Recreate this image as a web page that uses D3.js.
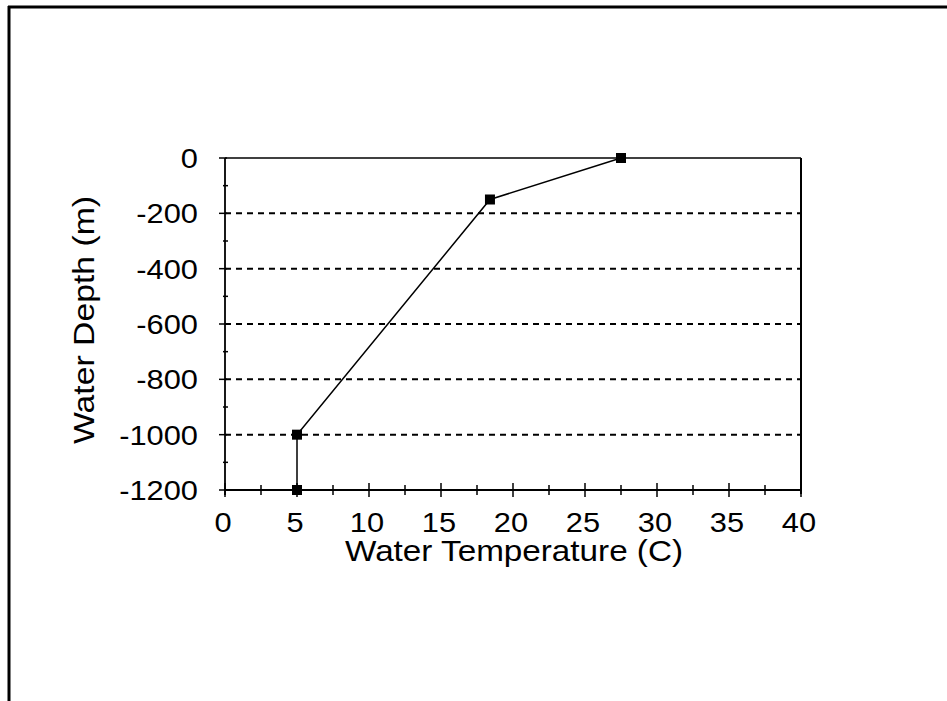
<!DOCTYPE html>
<html><head><meta charset="utf-8">
<script src="https://cdn.jsdelivr.net/npm/d3@7"></script>
<style>body{margin:0;background:#fff}svg{display:block}</style>
</head><body>
<script>
const temperature = [27.5, 18.4, 5.0, 5.0];
const depth = [0, -150, -1000, -1200];
const xTicks = [0, 5, 10, 15, 20, 25, 30, 35, 40];
const yTicks = [0, -200, -400, -600, -800, -1000, -1200];
const xTitle = "Water Temperature (C)";
const yTitle = "Water Depth (m)";

const W = 947, H = 701;
const svg = d3.select("body").append("svg").attr("width", W).attr("height", H);
const font = "'Liberation Sans', Arial, sans-serif";

function stretch(sel, k) {
  sel.each(function () {
    const w = this.getComputedTextLength();
    d3.select(this).attr("textLength", w * k).attr("lengthAdjust", "spacingAndGlyphs");
  });
}

// outer frame
svg.append("line").attr("x1", 8).attr("x2", W).attr("y1", 7).attr("y2", 7).attr("stroke", "#000").attr("stroke-width", 3);
svg.append("line").attr("x1", 9).attr("x2", 9).attr("y1", 6).attr("y2", H).attr("stroke", "#000").attr("stroke-width", 3);

const L = 225, R = 801, T = 158, B = 490;
const x = d3.scaleLinear().domain([0, 40]).range([L, R]);
const y = d3.scaleLinear().domain([-1200, 0]).range([B, T]);

// gridlines
svg.append("g").selectAll("line").data(yTicks.filter(d => d !== 0 && d !== -1200)).join("line")
  .attr("x1", L).attr("x2", R).attr("y1", d => y(d)).attr("y2", d => y(d))
  .attr("stroke", "#000").attr("stroke-width", 2).attr("stroke-dasharray", "6,5");

// plot top and right border
svg.append("line").attr("x1", L).attr("x2", R).attr("y1", T).attr("y2", T).attr("stroke", "#000").attr("stroke-width", 1.5);
svg.append("line").attr("x1", R).attr("x2", R).attr("y1", T).attr("y2", B + 4).attr("stroke", "#000").attr("stroke-width", 2);

// y axis
const yMinor = d3.range(-1200, 1, 100);
svg.append("g").selectAll("line").data(yMinor).join("line")
  .attr("x1", d => d % 200 === 0 ? L - 6 : L - 2).attr("x2", d => d % 200 === 0 ? L + 2 : L + 3)
  .attr("y1", d => y(d)).attr("y2", d => y(d)).attr("stroke", "#000").attr("stroke-width", 1.5);
svg.append("line").attr("x1", L).attr("x2", L).attr("y1", T).attr("y2", B + 5).attr("stroke", "#000").attr("stroke-width", 1.8);
svg.append("g").selectAll("text").data(yTicks).join("text")
  .attr("x", 198).attr("y", d => y(d)).attr("dy", "0.36em").attr("text-anchor", "end")
  .attr("font-family", font).attr("font-size", 28).text(d => d)
  .call(stretch, 1.1);

// x axis
const xMinor = d3.range(0, 40.1, 2.5);
svg.append("line").attr("x1", L).attr("x2", R).attr("y1", B).attr("y2", B).attr("stroke", "#000").attr("stroke-width", 1.8);
svg.append("g").selectAll("line").data(xMinor).join("line")
  .attr("x1", d => x(d)).attr("x2", d => x(d))
  .attr("y1", d => d % 5 === 0 ? B - 7 : B - 5).attr("y2", d => d % 5 === 0 ? B + 7 : B + 5)
  .attr("stroke", "#000").attr("stroke-width", 1.5);
svg.append("g").selectAll("text").data(xTicks).join("text")
  .attr("x", d => x(d) - 2).attr("y", 532).attr("text-anchor", "middle")
  .attr("font-family", font).attr("font-size", 28).text(d => d)
  .call(stretch, 1.1);

// titles
svg.append("text").attr("x", 514).attr("y", 561).attr("text-anchor", "middle")
  .attr("font-family", font).attr("font-size", 29)
  .attr("textLength", 338).attr("lengthAdjust", "spacingAndGlyphs").text(xTitle);
svg.append("text").attr("transform", "translate(94,320) rotate(-90)").attr("text-anchor", "middle")
  .attr("font-family", font).attr("font-size", 29)
  .attr("textLength", 248).attr("lengthAdjust", "spacingAndGlyphs").text(yTitle);

// line + markers
const pts = temperature.map((t, i) => [t, depth[i]]);
svg.append("path").datum(pts)
  .attr("d", d3.line().x(d => x(d[0])).y(d => y(d[1])))
  .attr("fill", "none").attr("stroke", "#000").attr("stroke-width", 1.5);
svg.append("g").selectAll("rect").data(pts).join("rect")
  .attr("x", d => x(d[0]) - 5).attr("y", d => y(d[1]) - 5).attr("width", 10).attr("height", 10).attr("fill", "#000");
</script>
</body></html>
